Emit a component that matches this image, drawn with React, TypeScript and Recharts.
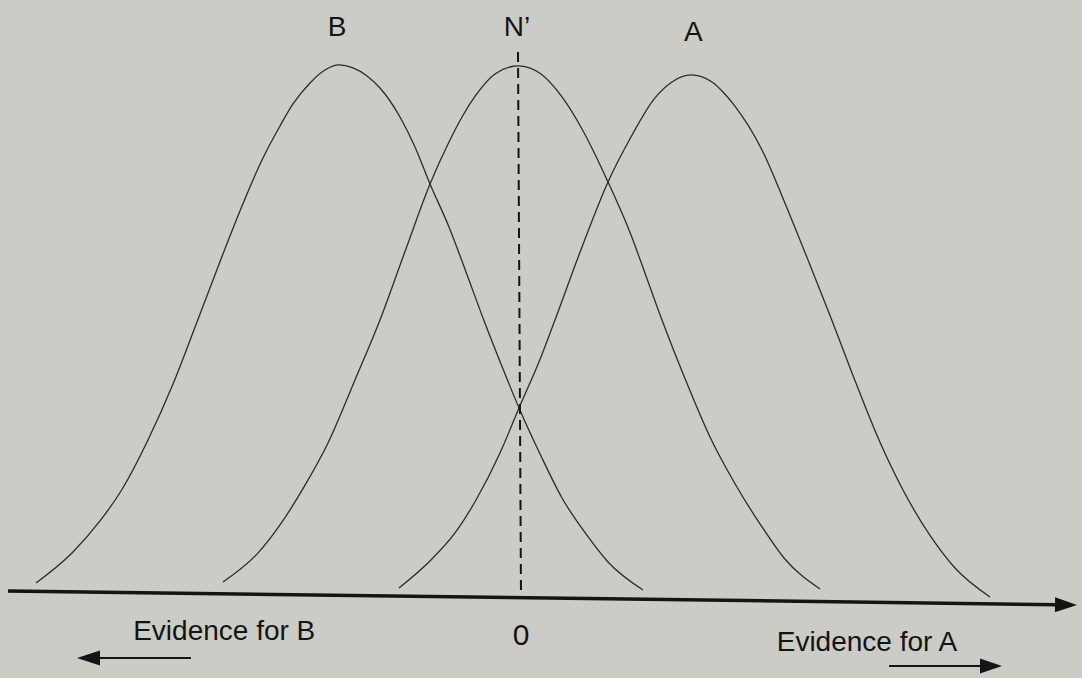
import React from 'react';
import { LineChart, Line, XAxis, YAxis, ReferenceLine, ReferenceDot } from 'recharts';

// Evidence axis (x) and relative likelihood (y)
const curveB = [
  { x: -3.864, y: 0.0264 }, { x: -3.576, y: 0.0831 }, { x: -3.352, y: 0.1435 }, { x: -3.184, y: 0.2001 },
  { x: -2.968, y: 0.2964 }, { x: -2.768, y: 0.4021 }, { x: -2.576, y: 0.5192 }, { x: -2.384, y: 0.6381 },
  { x: -2.216, y: 0.7382 }, { x: -2.056, y: 0.825 }, { x: -1.912, y: 0.8892 }, { x: -1.808, y: 0.9307 },
  { x: -1.672, y: 0.9704 }, { x: -1.552, y: 0.9949 }, { x: -1.44, y: 1.0044 }, { x: -1.328, y: 0.9987 },
  { x: -1.216, y: 0.9836 }, { x: -1.112, y: 0.9609 }, { x: -0.952, y: 0.9062 }, { x: -0.832, y: 0.8496 },
  { x: -0.712, y: 0.7797 }, { x: -0.56, y: 0.6985 }, { x: -0.424, y: 0.6136 }, { x: -0.288, y: 0.5267 },
  { x: -0.144, y: 0.4399 }, { x: 0.0, y: 0.3568 }, { x: 0.176, y: 0.2662 }, { x: 0.344, y: 0.1869 },
  { x: 0.536, y: 0.1189 }, { x: 0.712, y: 0.0661 }, { x: 0.992, y: 0.0132 },
];

const curveN = [
  { x: -2.368, y: 0.0283 }, { x: -2.08, y: 0.085 }, { x: -1.912, y: 0.1359 }, { x: -1.72, y: 0.2077 },
  { x: -1.528, y: 0.2907 }, { x: -1.312, y: 0.4097 }, { x: -1.112, y: 0.5229 }, { x: -0.896, y: 0.6627 },
  { x: -0.712, y: 0.7797 }, { x: -0.56, y: 0.859 }, { x: -0.456, y: 0.9062 }, { x: -0.344, y: 0.9477 },
  { x: -0.192, y: 0.9874 }, { x: -0.008, y: 1.0025 }, { x: 0.176, y: 0.9874 }, { x: 0.344, y: 0.944 },
  { x: 0.504, y: 0.8835 }, { x: 0.712, y: 0.7835 }, { x: 0.896, y: 0.6834 }, { x: 1.016, y: 0.606 },
  { x: 1.144, y: 0.5229 }, { x: 1.336, y: 0.4078 }, { x: 1.528, y: 0.3021 }, { x: 1.72, y: 0.2171 },
  { x: 1.944, y: 0.1322 }, { x: 2.12, y: 0.0736 }, { x: 2.408, y: 0.0151 },
];

const curveA = [
  { x: -0.96, y: 0.017 }, { x: -0.704, y: 0.0699 }, { x: -0.512, y: 0.1208 }, { x: -0.344, y: 0.1831 },
  { x: -0.152, y: 0.2719 }, { x: 0.0, y: 0.3568 }, { x: 0.176, y: 0.4531 }, { x: 0.288, y: 0.5229 },
  { x: 0.504, y: 0.6608 }, { x: 0.712, y: 0.7835 }, { x: 0.896, y: 0.8684 }, { x: 1.088, y: 0.9421 },
  { x: 1.224, y: 0.9723 }, { x: 1.376, y: 0.9855 }, { x: 1.544, y: 0.9723 }, { x: 1.632, y: 0.9534 },
  { x: 1.72, y: 0.9289 }, { x: 1.944, y: 0.8439 }, { x: 2.16, y: 0.725 }, { x: 2.328, y: 0.6268 },
  { x: 2.496, y: 0.5267 }, { x: 2.664, y: 0.4229 }, { x: 2.88, y: 0.2964 }, { x: 3.072, y: 0.202 },
  { x: 3.296, y: 0.1133 }, { x: 3.488, y: 0.0547 }, { x: 3.768, y: 0.0 },
];

const seriesNames = ['B', "N\u2019", 'A'];
const bottomLabels = ['Evidence for B', '0', 'Evidence for A'];

const W = 1082;
const H = 678;
const INK = '#141414';
const FONT = '"Liberation Sans", Arial, Helvetica, sans-serif';

const makeArrow = (width: number, headLen: number, headHalf: number) => (props: any) => {
  const { x1, y1, x2, y2 } = props;
  const ang = Math.atan2(y2 - y1, x2 - x1);
  const c = Math.cos(ang);
  const s = Math.sin(ang);
  const bx = x2 - headLen * c;
  const by = y2 - headLen * s;
  const pts = `${x2},${y2} ${bx - headHalf * s},${by + headHalf * c} ${bx + headHalf * s},${by - headHalf * c}`;
  return (
    <g>
      <line x1={x1} y1={y1} x2={bx + 1 * c} y2={by + 1 * s} stroke={INK} strokeWidth={width} />
      <polygon points={pts} fill={INK} />
    </g>
  );
};

const textLabel = (value: string, size: number) => ({
  value,
  position: 'center' as const,
  fill: INK,
  fontSize: size,
  fontFamily: FONT,
});

const lineProps = {
  dataKey: 'y',
  type: 'monotone' as const,
  stroke: '#2b2b2b',
  strokeWidth: 1.3,
  dot: false,
  activeDot: false,
  isAnimationActive: false,
};

export default function App() {
  return (
    <div style={{ position: 'absolute', left: 0, top: 0, width: W, height: H, background: '#cbccc5' }}>
      <LineChart width={W} height={H} margin={{ top: 0, right: 0, bottom: 0, left: 0 }}>
        <XAxis type="number" dataKey="x" domain={[-4.152, 4.504]} allowDataOverflow hide />
        <YAxis type="number" domain={[-0.153, 1.127]} allowDataOverflow hide />

        <Line data={curveB} name={seriesNames[0]} {...lineProps} />
        <Line data={curveN} name={seriesNames[1]} {...lineProps} />
        <Line data={curveA} name={seriesNames[2]} {...lineProps} />

        <ReferenceLine
          segment={[{ x: -0.008, y: 1.029 }, { x: 0.016, y: 0.002 }]}
          stroke={INK}
          strokeWidth={2}
          strokeDasharray="10 6"
        />
        <ReferenceLine
          segment={[{ x: -4.088, y: 0.0113 }, { x: 4.464, y: -0.0151 }]}
          shape={makeArrow(3.5, 22, 7.5)}
        />
        <ReferenceLine
          segment={[{ x: -2.624, y: -0.1152 }, { x: -3.536, y: -0.1152 }]}
          shape={makeArrow(2.2, 23, 7.5)}
        />
        <ReferenceLine
          segment={[{ x: 2.96, y: -0.1303 }, { x: 3.864, y: -0.1303 }]}
          shape={makeArrow(2.2, 22, 7.5)}
        />

        <ReferenceDot x={-1.456} y={1.078} r={0} fill="none" stroke="none" label={textLabel(seriesNames[0], 28)} />
        <ReferenceDot x={-0.016} y={1.078} r={0} fill="none" stroke="none" label={textLabel(seriesNames[1], 28)} />
        <ReferenceDot x={1.394} y={1.0685} r={0} fill="none" stroke="none" label={textLabel(seriesNames[2], 28)} />

        <ReferenceDot x={-2.358} y={-0.0623} r={0} fill="none" stroke="none" label={textLabel(bottomLabels[0], 28)} />
        <ReferenceDot x={0.016} y={-0.0699} r={0} fill="none" stroke="none" label={textLabel(bottomLabels[1], 30)} />
        <ReferenceDot x={2.784} y={-0.0831} r={0} fill="none" stroke="none" label={textLabel(bottomLabels[2], 28)} />
      </LineChart>
    </div>
  );
}
